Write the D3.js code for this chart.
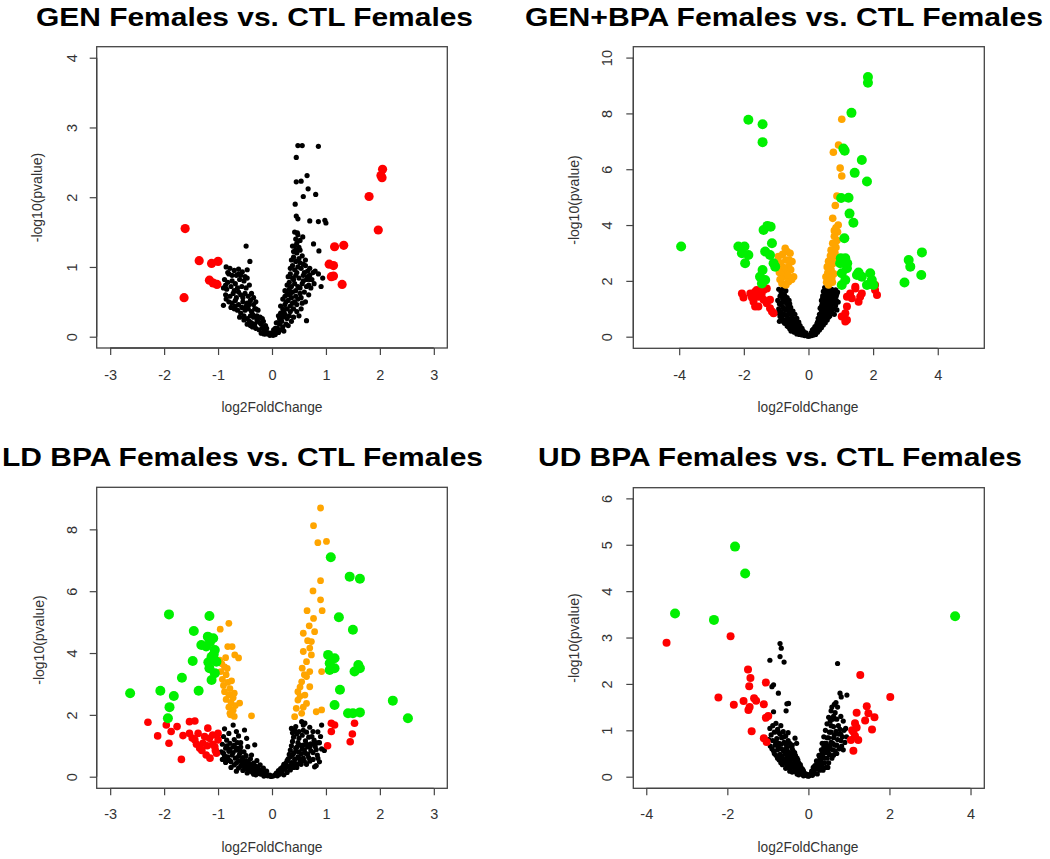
<!DOCTYPE html>
<html><head><meta charset="utf-8">
<script src="https://cdn.jsdelivr.net/npm/d3@7"></script>
<style>body{margin:0;background:#fff}</style>
</head><body>
<svg id="c" width="1050" height="859" xmlns="http://www.w3.org/2000/svg"></svg>
<script>
// ---------- titles & ticks ----------
const titles = ["GEN Females vs. CTL Females", "GEN+BPA Females vs. CTL Females",
                "LD BPA Females vs. CTL Females", "UD BPA Females vs. CTL Females"];
const xLabel = "log2FoldChange";
const yLabel = "-log10(pvalue)";
const xTicksA = [-3, -2, -1, 0, 1, 2, 3];
const xTicksB = [-4, -2, 0, 2, 4];
const yTicksGen = [0, 1, 2, 3, 4];
const yTicksGenBpa = [0, 2, 4, 6, 8, 10];
const yTicksLd = [0, 2, 4, 6, 8];
const yTicksUd = [0, 1, 2, 3, 4, 5, 6];

// ---------- GEN ----------
const genBlack = [
[-0.85,1.0],[-0.78,0.98],[-0.70,0.95],[-0.62,0.97],[-0.55,0.93],[-0.80,0.90],[-0.66,0.88],
[-0.88,0.82],[-0.82,0.78],[-0.74,0.80],[-0.60,0.82],[-0.52,0.80],[-0.46,0.84],[-0.68,0.76],
[-0.90,0.70],[-0.84,0.68],[-0.76,0.72],[-0.70,0.66],[-0.64,0.70],[-0.56,0.72],[-0.48,0.70],[-0.42,0.74],
[-0.86,0.60],[-0.78,0.58],[-0.72,0.62],[-0.66,0.56],[-0.58,0.60],[-0.50,0.62],[-0.44,0.58],[-0.38,0.62],[-0.34,0.56],
[-0.80,0.50],[-0.74,0.48],[-0.68,0.52],[-0.62,0.46],[-0.54,0.50],[-0.46,0.48],[-0.40,0.52],[-0.34,0.46],[-0.30,0.50],
[-0.70,0.40],[-0.64,0.38],[-0.56,0.42],[-0.50,0.38],[-0.44,0.40],[-0.38,0.36],[-0.32,0.40],[-0.26,0.38],[-0.58,0.34],
[-0.60,0.28],[-0.52,0.30],[-0.46,0.26],[-0.40,0.30],[-0.34,0.28],[-0.28,0.30],[-0.22,0.28],[-0.42,0.22],
[-0.46,0.18],[-0.38,0.20],[-0.32,0.18],[-0.26,0.22],[-0.20,0.18],[-0.16,0.22],[-0.30,0.12],[-0.36,0.14],
[-0.24,0.10],[-0.18,0.12],[-0.14,0.08],[-0.10,0.12],[-0.20,0.05],[-0.08,0.06],[-0.12,0.16],
[-0.04,0.02],[-0.06,0.04],[-0.02,0.05],[-0.15,0.04],
[-0.82,0.92],[-0.74,0.88],[-0.58,0.88],[-0.50,0.86],[-0.86,0.74],[-0.62,0.64],[-0.54,0.56],[-0.48,0.44],[-0.42,0.46],
[-0.36,0.32],[-0.28,0.24],[-0.22,0.20],[-0.18,0.26],[-0.12,0.04],[-0.76,0.42],[-0.52,0.24],[-0.40,0.16],[-0.30,0.40],
[-0.68,0.44],[-0.62,0.90],
[0.02,0.02],[0.04,0.05],[0.06,0.03],[0.08,0.08],[0.03,0.10],
[0.10,0.12],[0.12,0.06],[0.14,0.18],[0.16,0.10],[0.18,0.22],[0.20,0.14],[0.08,0.20],[0.22,0.08],
[0.12,0.30],[0.16,0.34],[0.20,0.28],[0.24,0.32],[0.28,0.26],[0.32,0.30],[0.26,0.18],[0.36,0.22],
[0.16,0.44],[0.20,0.40],[0.24,0.46],[0.28,0.40],[0.34,0.44],[0.40,0.40],[0.46,0.36],[0.50,0.30],
[0.20,0.54],[0.24,0.58],[0.30,0.52],[0.36,0.56],[0.42,0.50],[0.48,0.54],[0.56,0.48],[0.62,0.50],
[0.24,0.66],[0.28,0.62],[0.32,0.68],[0.38,0.64],[0.44,0.66],[0.52,0.62],[0.60,0.64],[0.68,0.60],
[0.28,0.74],[0.32,0.78],[0.36,0.72],[0.42,0.76],[0.48,0.72],[0.56,0.76],[0.64,0.72],[0.72,0.70],
[0.30,0.86],[0.34,0.90],[0.38,0.84],[0.44,0.88],[0.50,0.84],[0.58,0.88],[0.66,0.86],[0.74,0.82],
[0.34,0.98],[0.38,1.02],[0.42,0.96],[0.48,1.00],[0.54,0.98],[0.62,1.02],[0.70,0.98],
[0.36,1.10],[0.40,1.14],[0.44,1.08],[0.50,1.12],[0.56,1.16],[0.62,1.10],[0.40,1.22],[0.46,1.20],[0.52,1.24],
[0.42,1.30],[0.46,1.34],[0.50,1.28],[0.44,1.40],[0.52,1.38],
[0.18,0.30],[0.22,0.36],[0.26,0.50],[0.30,0.60],[0.34,0.36],[0.38,0.48],[0.44,0.58],[0.46,0.46],[0.52,0.70],[0.54,0.56],
[0.58,0.80],[0.60,0.92],[0.64,0.82],[0.66,0.94],[0.68,0.74],[0.70,0.88],[0.76,0.92],[0.78,0.76],[0.34,0.62],[0.40,0.82],
[0.46,0.92],[0.52,1.06],[0.58,1.04],[0.44,1.24],[0.48,1.46],[0.38,1.30],[0.10,0.20],[0.14,0.26],[0.06,0.12],[0.30,0.16],
[0.40,0.28],[0.54,0.40],
[0.48,2.74],[0.56,2.74],[0.86,2.73],[0.45,2.57],[0.65,2.31],[0.45,2.22],[0.54,2.23],[0.67,2.12],
[0.58,2.01],[0.81,2.04],[0.43,1.90],[0.45,1.73],[0.48,1.69],[0.70,1.66],[0.86,1.65],[0.98,1.67],
[1.00,1.63],[0.42,1.50],[0.47,1.49],[0.57,1.43],[0.77,1.33],[0.87,1.23],[-0.48,1.30],[-0.41,1.08],
[-0.46,0.96],[0.64,0.23],[0.91,0.72],[0.80,0.94],[0.86,0.90],[0.94,0.84],[0.70,0.82],[-0.90,0.45],[-0.85,0.54]
];
const genRed = [
[-1.61,1.55],[-1.63,0.56],[-1.35,1.09],[-1.12,1.05],[-1.00,1.08],[-1.16,0.81],[-1.09,0.77],[-1.02,0.75],
[1.16,1.29],[1.33,1.31],[1.06,1.04],[1.14,1.02],[1.10,0.86],[1.14,0.87],[1.30,0.75],
[1.80,2.01],[1.97,1.53],[2.05,2.40],[2.02,2.31],[2.04,2.28]
];

// ---------- GEN+BPA ----------
const genBpaBlack = [
[-0.92,1.70],[-0.85,1.60],[-0.78,1.72],[-0.70,1.65],[-0.74,1.50],[-0.88,1.45],[-0.66,1.40],[-0.80,1.35],[-0.95,1.30],
[-0.72,1.25],[-0.60,1.30],[-0.86,1.15],[-0.64,1.12],[-0.78,1.05],[-0.92,1.00],[-0.55,1.05],[-0.70,0.95],[-0.84,0.90],
[-0.60,0.88],[-0.48,0.92],[-0.96,0.85],[-0.76,0.80],[-0.66,0.75],[-0.88,0.72],[-0.52,0.76],[-0.42,0.80],[-0.80,0.62],
[-0.70,0.60],[-0.58,0.64],[-0.46,0.62],[-0.36,0.66],[-0.90,0.55],[-0.74,0.48],[-0.62,0.50],[-0.50,0.50],[-0.40,0.48],
[-0.30,0.52],[-0.66,0.38],[-0.54,0.40],[-0.44,0.36],[-0.34,0.38],[-0.26,0.40],[-0.58,0.28],[-0.48,0.26],[-0.38,0.28],
[-0.28,0.26],[-0.20,0.30],[-0.44,0.16],[-0.34,0.18],[-0.24,0.16],[-0.16,0.20],[-0.28,0.08],[-0.18,0.10],[-0.10,0.12],
[-0.12,0.04],[-0.05,0.05],[-0.02,0.02],[-0.08,0.14],[-0.54,0.20],[-0.36,0.10],
[-0.82,1.55],[-0.76,1.38],[-0.68,1.20],[-0.90,1.18],[-0.82,1.22],[-0.58,1.18],[-0.74,1.00],[-0.62,1.00],[-0.88,0.85],
[-0.70,0.78],[-0.56,0.82],[-0.82,0.72],[-0.64,0.62],[-0.52,0.60],[-0.42,0.62],[-0.78,0.54],[-0.56,0.50],[-0.46,0.46],
[-0.62,0.36],[-0.40,0.38],[-0.50,0.30],[-0.32,0.30],[-0.42,0.24],[-0.30,0.20],[-0.22,0.22],[-0.20,0.06],[-0.14,0.10],[-0.26,0.12],
[0.02,0.02],[0.05,0.06],[0.10,0.04],[0.08,0.14],[0.14,0.10],[0.18,0.18],[0.12,0.24],[0.22,0.08],[0.24,0.26],[0.20,0.36],
[0.28,0.16],[0.30,0.34],[0.26,0.46],[0.34,0.24],[0.36,0.44],[0.32,0.56],[0.40,0.32],[0.42,0.54],[0.30,0.66],[0.38,0.68],
[0.46,0.42],[0.48,0.62],[0.34,0.80],[0.44,0.78],[0.52,0.50],[0.54,0.72],[0.40,0.92],[0.50,0.88],[0.58,0.60],[0.60,0.84],
[0.36,1.02],[0.46,1.04],[0.56,1.00],[0.66,0.74],[0.64,0.96],[0.42,1.16],[0.52,1.18],[0.62,1.12],[0.72,0.88],[0.70,1.06],
[0.40,1.30],[0.48,1.34],[0.58,1.28],[0.68,1.24],[0.78,1.00],[0.76,1.18],[0.44,1.46],[0.54,1.48],[0.64,1.42],[0.74,1.38],
[0.84,1.12],[0.82,1.30],[0.46,1.62],[0.56,1.64],[0.66,1.58],[0.76,1.54],[0.86,1.46],[0.90,1.60],[0.50,1.76],[0.62,1.74],
[0.72,1.70],[0.84,1.68],[0.92,1.24],[0.88,0.96],[0.80,0.80],
[0.16,0.06],[0.16,0.28],[0.22,0.20],[0.28,0.30],[0.34,0.40],[0.28,0.52],[0.38,0.56],[0.44,0.64],[0.36,0.80],[0.48,0.76],
[0.42,0.86],[0.56,0.84],[0.46,0.96],[0.58,0.92],[0.40,1.08],[0.50,1.10],[0.60,1.04],[0.46,1.22],[0.56,1.24],[0.66,1.10],
[0.44,1.38],[0.52,1.40],[0.62,1.36],[0.70,1.30],[0.50,1.56],[0.60,1.52],[0.70,1.46],[0.80,1.40],[0.56,1.70],[0.78,1.62],
[0.88,1.54],[0.86,1.30],[0.74,0.96],[0.62,0.70],[0.52,0.62]
];
const genBpaRed = [
[-2.06,1.55],[-2.01,1.40],[-1.80,1.55],[-1.65,1.61],[-1.39,1.67],[-1.29,1.73],[-1.55,1.43],[-1.70,1.25],[-1.55,1.08],
[-1.65,1.08],[-1.39,1.32],[-1.29,1.20],[-1.19,1.02],[-1.13,0.90],[-1.08,0.84],[-1.60,1.67],[-1.19,1.32],[-1.45,1.50],[-1.75,1.40],
[1.45,1.73],[1.29,1.55],[1.60,1.43],[1.55,1.25],[1.19,1.08],[1.14,0.84],[1.03,0.72],[1.19,0.60],[2.06,1.67],[2.12,1.49],
[1.34,1.38],[1.45,1.79],[1.65,1.55],[1.19,1.43],[1.14,0.54],[2.06,1.85],[1.08,0.72]
];
const genBpaOrange = [
[1.03,7.79],[0.93,6.87],[0.77,6.61],[0.98,6.04],[1.03,5.76],[0.88,5.04],[0.83,4.70],[0.75,4.24],
[0.92,4.00],[0.85,3.90],[0.90,3.75],[0.80,3.60],[0.88,3.45],[0.75,3.35],[0.85,3.20],[0.70,3.10],[0.82,3.00],[0.68,2.90],
[0.78,2.80],[0.62,2.70],[0.74,2.60],[0.58,2.50],[0.70,2.40],[0.60,2.30],[0.78,2.25],[0.54,2.15],[0.66,2.05],[0.56,1.95],
[0.74,1.95],[0.62,1.85],[0.80,3.80],[0.72,2.10],
[-0.72,3.17],[-0.66,3.05],[-0.57,2.99],[-0.93,2.87],[-0.80,2.95],[-0.51,2.69],[-0.70,2.75],[-0.88,2.65],[-0.62,2.51],
[-0.82,2.51],[-0.55,2.40],[-0.75,2.35],[-0.90,2.30],[-0.46,2.15],[-0.77,2.15],[-0.64,2.20],[-0.62,1.97],[-0.82,1.91],
[-0.70,1.85],[-0.52,2.05],[-0.88,2.05],[-0.60,2.75]
];
const genBpaGreen = [
[-3.94,3.23],[-1.86,7.77],[-1.42,7.61],[-1.42,6.97],
[1.84,9.30],[1.84,9.10],[1.33,8.02],[1.08,6.74],[1.12,6.66],[1.65,6.33],[1.43,5.87],[1.81,5.56],[1.01,4.97],[1.24,4.98],
[1.27,4.41],[1.39,4.08],[1.11,3.53],
[-1.39,3.82],[-1.27,3.97],[-1.17,3.94],
[-2.17,3.23],[-1.98,3.23],[-2.06,2.99],[-1.86,2.93],[-1.96,2.63],
[-1.13,3.35],[-1.34,3.05],[-1.19,2.93],[-1.08,2.63],[-1.03,2.51],
[-1.42,2.39],[-1.50,2.15],[-1.34,2.03],[-1.44,1.91],
[1.14,2.81],[0.98,2.63],[1.19,2.45],[1.03,2.27],[1.14,2.03],[1.03,1.85],[1.00,2.81],[1.20,2.63],
[1.50,2.21],[1.65,2.15],[1.91,2.27],[1.96,2.03],[1.81,1.85],[2.01,1.85],[1.55,2.30],
[3.10,2.75],[3.15,2.51],[3.51,3.02],[3.49,2.21],[2.97,1.94]
];

// ---------- LD BPA ----------
const ldBlack = [
[-0.72,1.67],[-0.66,1.46],[-0.51,1.51],[-0.47,1.24],[-0.45,0.97],[-0.32,1.03],[-0.90,1.30],[-0.84,1.18],[-0.92,1.05],
[-0.78,1.08],[-0.86,0.92],[-0.72,0.96],[-0.94,0.80],[-0.80,0.82],[-0.66,0.86],[-0.88,0.68],[-0.74,0.70],[-0.60,0.74],
[-0.92,0.56],[-0.82,0.58],[-0.68,0.60],[-0.54,0.62],[-0.86,0.46],[-0.76,0.48],[-0.62,0.50],[-0.48,0.52],[-0.40,0.58],
[-0.70,0.38],[-0.56,0.40],[-0.44,0.42],[-0.34,0.44],[-0.62,0.28],[-0.50,0.30],[-0.40,0.32],[-0.30,0.34],[-0.54,0.20],
[-0.44,0.22],[-0.34,0.22],[-0.24,0.24],[-0.46,0.12],[-0.36,0.14],[-0.26,0.14],[-0.18,0.16],[-0.30,0.06],[-0.20,0.08],
[-0.12,0.08],[-0.08,0.03],[-0.04,0.05],[-0.02,0.01],[-0.15,0.02],[-0.80,1.40],[-0.64,1.10],[-0.58,0.96],[-0.52,0.80],
[-0.38,0.70],[-0.28,0.52],[-0.22,0.38],[-0.16,0.28],[-0.10,0.18],[-0.88,1.55],[-0.76,0.30],[-0.66,0.18],
[-0.84,1.00],[-0.70,1.02],[-0.78,0.90],[-0.64,0.92],[-0.90,0.76],[-0.72,0.78],[-0.58,0.82],[-0.82,0.64],[-0.62,0.66],
[-0.48,0.68],[-0.78,0.52],[-0.56,0.54],[-0.44,0.50],[-0.66,0.44],[-0.50,0.44],[-0.38,0.40],[-0.58,0.34],[-0.46,0.36],
[-0.34,0.30],[-0.50,0.26],[-0.40,0.26],[-0.28,0.28],[-0.40,0.18],[-0.30,0.18],[-0.22,0.18],[-0.34,0.08],[-0.24,0.10],
[-0.14,0.12],[-0.58,1.10],[-0.70,1.20],[-0.62,1.32],[-0.86,0.56],
[0.02,0.02],[0.05,0.05],[0.10,0.03],[0.08,0.12],[0.14,0.08],[0.18,0.16],[0.12,0.20],[0.22,0.06],[0.24,0.24],[0.20,0.32],
[0.28,0.14],[0.30,0.34],[0.26,0.44],[0.34,0.22],[0.36,0.46],[0.30,0.58],[0.40,0.30],[0.42,0.56],[0.32,0.72],[0.38,0.70],
[0.46,0.40],[0.48,0.64],[0.34,0.86],[0.44,0.82],[0.52,0.50],[0.54,0.74],[0.36,1.00],[0.46,0.96],[0.58,0.60],[0.60,0.86],
[0.38,1.14],[0.48,1.10],[0.58,1.02],[0.66,0.72],[0.66,0.96],[0.40,1.28],[0.50,1.24],[0.62,1.16],[0.72,0.84],[0.72,1.06],
[0.38,1.42],[0.46,1.38],[0.56,1.34],[0.68,1.28],[0.80,0.98],[0.78,1.18],[0.36,1.56],[0.44,1.62],[0.58,1.50],[0.86,1.10],
[0.84,0.70],[0.76,0.56],[0.92,0.90],[0.82,0.36],[0.58,1.67],[0.92,1.67],[0.85,1.45],[0.88,1.10],[0.97,0.85],[0.64,0.40],
[0.70,0.50],[0.55,1.78],[0.61,1.73],[0.76,1.46],[0.79,1.02],[0.85,0.60],[0.79,0.32],
[0.16,0.26],[0.22,0.40],[0.26,0.30],[0.28,0.52],[0.34,0.64],[0.36,0.34],[0.40,0.76],[0.42,0.44],[0.44,0.92],[0.50,0.60],
[0.50,0.80],[0.52,1.02],[0.56,0.90],[0.62,0.76],[0.64,1.06],[0.70,0.96],[0.74,1.30],[0.76,0.78],[0.80,1.10],[0.82,0.88],
[0.68,0.62],[0.60,0.50],[0.54,0.40],[0.46,0.30],[0.42,1.50],[0.50,1.46],[0.64,1.44],[0.88,0.48],[0.90,1.30],[0.70,1.60]
];
const ldRed = [
[-2.30,1.76],[-2.12,1.32],[-1.91,1.08],[-1.68,0.56],[-1.87,1.46],[-1.76,1.62],[-1.65,1.33],[-1.53,1.78],[-1.43,1.80],
[-1.53,1.40],[-1.43,1.19],[-1.37,1.40],[-1.28,1.08],[-1.34,0.92],[-1.19,1.57],[-1.16,1.24],[-1.22,0.70],[-1.06,0.97],
[-1.03,0.76],[-1.00,1.19],[-1.96,1.67],[-1.10,1.35],[-1.25,1.30],[-1.40,1.05],[-1.15,0.60],[-1.30,0.85],[-1.05,0.85],
[-1.20,1.00],[-1.48,1.25],[-1.10,1.05],[-1.00,1.40],
[1.10,1.73],[1.16,1.67],[1.10,1.46],[1.53,1.73],[1.49,1.38],[1.45,1.13],[1.03,1.00]
];
const ldOrange = [
[0.90,8.69],[0.77,8.12],[0.85,7.57],[1.01,7.61],[0.90,6.34],[0.76,6.01],[0.90,5.72],[0.65,5.37],[0.93,5.37],[0.77,5.12],
[0.69,4.88],[0.58,4.64],[0.79,4.69],[0.73,4.37],[0.70,4.16],[0.58,4.05],[0.73,3.94],[0.64,3.72],[0.56,3.51],[0.70,3.40],
[0.64,3.24],[0.55,3.07],[0.70,2.91],[0.48,2.75],[0.61,2.64],[0.48,2.48],[0.64,2.37],[0.45,2.21],[0.55,2.05],[0.42,1.94],
[0.92,3.40],[0.92,2.16],[0.82,2.10],[0.60,3.30],[0.52,2.90],[0.58,2.25],[0.66,4.40],[0.52,2.60],
[-0.96,4.77],[-0.80,4.96],[-0.82,4.21],[-0.74,4.21],[-0.69,3.94],[-0.62,3.84],[-0.97,3.77],[-0.93,3.65],[-0.88,3.55],
[-0.95,3.40],[-0.85,3.30],[-0.92,3.15],[-0.82,3.05],[-0.90,2.95],[-0.78,2.85],[-0.88,2.75],[-0.80,2.65],[-0.72,2.55],
[-0.85,2.50],[-0.76,2.40],[-0.68,2.30],[-0.80,2.25],[-0.72,2.15],[-0.78,2.05],[-0.70,1.95],[-0.60,2.38],[-0.38,1.97],
[-0.86,3.85],[-0.75,3.10],[-0.70,2.70],[-0.83,3.50],[-0.77,2.00]
];
const ldGreen = [
[-1.91,5.25],[-1.16,5.20],[-1.45,4.71],[-1.19,4.53],[-1.09,4.48],[-1.31,4.26],[-1.22,4.21],[-1.06,4.10],[-1.12,3.88],
[-1.03,3.72],[-1.16,3.51],[-1.06,3.35],[-1.12,3.13],[-1.47,3.74],[-1.67,3.20],[-2.63,2.70],[-2.07,2.78],[-1.82,2.61],
[-1.36,2.78],[-1.90,2.25],[-1.93,1.89],[-1.15,4.35],[-1.08,3.95],[-1.18,3.70],
[1.09,7.10],[1.44,6.47],[1.63,6.40],[1.24,5.16],[1.50,4.75],[1.04,3.94],[1.16,3.83],[1.07,3.67],[1.16,3.51],[1.07,3.45],
[1.60,3.61],[1.63,3.51],[1.53,3.40],[1.26,2.81],[1.16,2.32],[1.41,2.05],[1.50,2.05],[1.63,2.08],[2.24,2.46],[2.52,1.89]
];

// ---------- UD BPA ----------
const udBlack = [
[-0.70,2.87],[-0.67,2.77],[-0.70,2.59],[-0.60,2.47],[-0.95,2.51],[-0.86,1.98],[-0.90,1.94],[-0.74,1.80],[-0.53,1.57],[-0.55,1.42],
[-0.95,1.04],[-0.86,1.40],[-0.49,1.58],[-0.62,0.97],[-0.33,0.83],[-0.29,0.72],[-0.92,0.90],[-0.84,0.96],[-0.76,1.02],
[-0.70,0.92],[-0.88,0.78],[-0.78,0.82],[-0.66,0.84],[-0.56,0.88],[-0.94,0.66],[-0.82,0.68],[-0.72,0.72],[-0.60,0.74],
[-0.50,0.78],[-0.86,0.56],[-0.76,0.58],[-0.66,0.60],[-0.54,0.62],[-0.44,0.66],[-0.80,0.46],[-0.70,0.48],[-0.58,0.50],
[-0.48,0.52],[-0.38,0.56],[-0.72,0.36],[-0.62,0.38],[-0.52,0.40],[-0.42,0.42],[-0.32,0.46],[-0.64,0.26],[-0.54,0.28],
[-0.44,0.30],[-0.34,0.32],[-0.26,0.36],[-0.56,0.18],[-0.46,0.18],[-0.36,0.20],[-0.28,0.22],[-0.20,0.26],[-0.40,0.10],
[-0.30,0.10],[-0.22,0.12],[-0.14,0.16],[-0.24,0.04],[-0.16,0.06],[-0.10,0.08],[-0.06,0.03],[-0.03,0.05],[-0.01,0.01],
[-0.12,0.02],[-0.50,0.95],[-0.40,0.68],[-0.98,0.80],[-0.68,1.10],[-0.80,1.15],
[-0.88,1.10],[-0.74,0.96],[-0.60,0.86],[-0.80,0.74],[-0.68,0.70],[-0.56,0.70],[-0.46,0.72],[-0.90,0.60],[-0.74,0.64],
[-0.62,0.56],[-0.52,0.56],[-0.40,0.60],[-0.84,0.50],[-0.66,0.44],[-0.54,0.46],[-0.44,0.48],[-0.34,0.52],[-0.76,0.40],
[-0.58,0.32],[-0.48,0.36],[-0.38,0.38],[-0.28,0.40],[-0.68,0.30],[-0.50,0.22],[-0.40,0.24],[-0.32,0.26],[-0.24,0.30],
[-0.46,0.12],[-0.34,0.14],[-0.26,0.16],[-0.18,0.20],[-0.28,0.06],[-0.20,0.08],[-0.12,0.12],[-0.08,0.06],
[0.72,2.44],[0.78,1.80],[0.95,1.76],[0.81,1.72],
[0.02,0.02],[0.05,0.05],[0.10,0.03],[0.08,0.12],[0.14,0.08],[0.18,0.16],[0.12,0.20],[0.22,0.06],[0.24,0.26],[0.20,0.34],
[0.28,0.14],[0.30,0.36],[0.26,0.46],[0.34,0.22],[0.36,0.48],[0.32,0.58],[0.40,0.30],[0.42,0.58],[0.34,0.72],[0.40,0.72],
[0.46,0.40],[0.48,0.66],[0.38,0.86],[0.46,0.84],[0.52,0.48],[0.56,0.74],[0.42,1.00],[0.52,0.96],[0.60,0.58],[0.62,0.84],
[0.46,1.14],[0.56,1.10],[0.66,0.68],[0.68,0.98],[0.50,1.28],[0.60,1.24],[0.72,0.80],[0.74,1.10],[0.56,1.42],[0.66,1.38],
[0.80,0.92],[0.82,0.66],[0.64,1.56],[0.72,1.50],[0.88,1.00],[0.90,0.74],[0.76,0.60],[0.86,1.20],[0.70,0.50],[0.94,0.86],
[0.58,0.40],[0.44,0.20],[0.50,0.30],
[0.16,0.24],[0.22,0.30],[0.26,0.18],[0.28,0.42],[0.32,0.30],[0.34,0.52],[0.38,0.40],[0.38,0.64],[0.44,0.52],[0.44,0.72],
[0.50,0.58],[0.50,0.84],[0.54,0.66],[0.56,0.96],[0.60,0.72],[0.62,1.08],[0.64,0.90],[0.66,0.56],[0.70,0.68],[0.74,0.92],
[0.78,1.02],[0.80,0.78],[0.84,0.86],[0.86,0.58],[0.92,1.04],[0.54,1.20],[0.62,1.30],[0.70,1.24],[0.58,1.50],[0.68,1.60],
[0.80,1.30],[0.48,0.20],[0.62,0.46],[0.36,0.14]
];
const udRed = [
[-3.50,2.89],[-1.92,3.03],[-2.22,1.71],[-1.84,1.55],[-1.49,2.31],[-1.43,2.13],[-1.46,1.95],[-1.05,2.03],[-1.60,1.63],
[-1.34,1.69],[-1.29,1.64],[-1.48,1.44],[-1.45,1.50],[-1.10,1.56],[-1.05,1.27],[-0.99,1.31],[-1.40,0.98],[-1.10,0.83],[-1.03,0.75],
[1.28,2.19],[2.02,1.72],[1.19,1.38],[1.44,1.52],[1.48,1.37],[1.40,1.21],[1.63,1.28],[1.57,1.02],[1.15,1.15],[1.19,1.06],
[1.11,0.97],[1.15,0.88],[1.05,0.79],[1.23,0.79],[1.11,0.56],[1.08,1.00]
];
const udGreen = [[-1.81,4.96],[-1.56,4.38],[-3.29,3.52],[-2.33,3.38],[3.62,3.46]];

// ---------- colours ----------
const colBlack = "#000000", colRed = "#ff0000", colOrange = "#ffa500", colGreen = "#00f000";

// ---------- layout (positions and sizes) ----------
const panels = [
  { title: titles[0], xTicks: xTicksA, yTicks: yTicksGen,
    box: {l: 96.7, r: 447.3, t: 46.7, b: 348}, xDom: [-3.25, 3.25], yDom: [-0.162, 4.158],
    titleX: 254.5, titleY: 26, titleW: 437, xLabX: 272, xLabY: 412, yLabX: 42, yLabY: 197.5, yTickX: 77, xTickY: 380,
    series: [{pts: genBlack, c: colBlack, r: 2.6}, {pts: genRed, c: colRed, r: 4.6}] },
  { title: titles[1], xTicks: xTicksB, yTicks: yTicksGenBpa,
    box: {l: 633.3, r: 984.3, t: 46.7, b: 348.3}, xDom: [-5.42, 5.44], yDom: [-0.416, 10.39],
    titleX: 784, titleY: 26, titleW: 518, xLabX: 808, xLabY: 412, yLabX: 578.5, yLabY: 200, yTickX: 612, xTickY: 380,
    series: [{pts: genBpaBlack, c: colBlack, r: 2.6}, {pts: genBpaRed, c: colRed, r: 4},
             {pts: genBpaOrange, c: colOrange, r: 3.8}, {pts: genBpaGreen, c: colGreen, r: 5}] },
  { title: titles[2], xTicks: xTicksA, yTicks: yTicksLd,
    box: {l: 96.7, r: 447.3, t: 487.3, b: 788.3}, xDom: [-3.25, 3.25], yDom: [-0.375, 9.36],
    titleX: 242.5, titleY: 466, titleW: 481, xLabX: 272, xLabY: 852, yLabX: 43.5, yLabY: 640, yTickX: 77, xTickY: 819,
    series: [{pts: ldBlack, c: colBlack, r: 2.6}, {pts: ldRed, c: colRed, r: 3.8},
             {pts: ldOrange, c: colOrange, r: 3.4}, {pts: ldGreen, c: colGreen, r: 5}] },
  { title: titles[3], xTicks: xTicksB, yTicks: yTicksUd,
    box: {l: 633.3, r: 984.3, t: 487.7, b: 788.3}, xDom: [-4.32, 4.34], yDom: [-0.25, 6.23],
    titleX: 780, titleY: 466, titleW: 484, xLabX: 808, xLabY: 852, yLabX: 578.5, yLabY: 638, yTickX: 612, xTickY: 819,
    series: [{pts: udBlack, c: colBlack, r: 2.6}, {pts: udRed, c: colRed, r: 4}, {pts: udGreen, c: colGreen, r: 5}] }
];

const FONT = "'Liberation Sans', Arial, Helvetica, sans-serif";
const AXIS_COL = "#333";
const svg = d3.select("#c");
svg.append("rect").attr("width", 1050).attr("height", 859).attr("fill", "#fff");

panels.forEach(p => {
  const g = svg.append("g");
  const x = d3.scaleLinear().domain(p.xDom).range([p.box.l, p.box.r]);
  const y = d3.scaleLinear().domain(p.yDom).range([p.box.b, p.box.t]);

  // title
  g.append("text").attr("x", p.titleX).attr("y", p.titleY)
    .attr("text-anchor", "middle").attr("font-family", FONT).attr("font-weight", "bold")
    .attr("font-size", 26).attr("fill", "#000")
    .attr("textLength", p.titleW).attr("lengthAdjust", "spacingAndGlyphs")
    .text(p.title);

  // points
  p.series.forEach(s => {
    g.append("g").selectAll("circle").data(s.pts).join("circle")
      .attr("cx", d => x(d[0])).attr("cy", d => y(d[1])).attr("r", s.r)
      .attr("fill", s.c);
  });

  // box
  g.append("rect").attr("x", p.box.l).attr("y", p.box.t)
    .attr("width", p.box.r - p.box.l).attr("height", p.box.b - p.box.t)
    .attr("fill", "none").attr("stroke", "#444").attr("stroke-width", 1.3);

  // x axis
  const xa = g.append("g").attr("transform", `translate(0,${p.box.b})`)
    .call(d3.axisBottom(x).tickValues(p.xTicks).tickSize(7).tickSizeOuter(0).tickFormat(d3.format("d")));
  xa.select(".domain").remove();
  xa.append("line").attr("x1", x(p.xTicks[0])).attr("x2", x(p.xTicks[p.xTicks.length - 1]))
    .attr("stroke", "#444").attr("stroke-width", 1.3);
  xa.selectAll(".tick line").attr("stroke", "#444").attr("stroke-width", 1.2);
  xa.selectAll(".tick text").attr("dy", null).attr("y", p.xTickY - p.box.b)
    .attr("font-family", FONT).attr("font-size", 14.5).attr("fill", AXIS_COL)
    .text(d => d < 0 ? "-" + Math.abs(d) : String(d));

  // y axis
  const ya = g.append("g").attr("transform", `translate(${p.box.l},0)`)
    .call(d3.axisLeft(y).tickValues(p.yTicks).tickSize(7).tickSizeOuter(0).tickFormat(d3.format("d")));
  ya.select(".domain").remove();
  ya.append("line").attr("y1", y(p.yTicks[0])).attr("y2", y(p.yTicks[p.yTicks.length - 1]))
    .attr("stroke", "#444").attr("stroke-width", 1.3);
  ya.selectAll(".tick line").attr("stroke", "#444").attr("stroke-width", 1.2);
  ya.selectAll(".tick text").attr("x", null).attr("dy", null).attr("text-anchor", "middle")
    .attr("transform", `translate(${p.yTickX - p.box.l},0) rotate(-90)`)
    .attr("font-family", FONT).attr("font-size", 14.5).attr("fill", AXIS_COL);

  // axis labels
  g.append("text").attr("x", p.xLabX).attr("y", p.xLabY).attr("text-anchor", "middle")
    .attr("font-family", FONT).attr("font-size", 14).attr("fill", AXIS_COL)
    .attr("textLength", 101).attr("lengthAdjust", "spacingAndGlyphs").text(xLabel);
  g.append("text").attr("transform", `translate(${p.yLabX},${p.yLabY}) rotate(-90)`)
    .attr("text-anchor", "middle").attr("font-family", FONT).attr("font-size", 14).attr("fill", AXIS_COL)
    .text(yLabel);
});
</script>
</body></html>
